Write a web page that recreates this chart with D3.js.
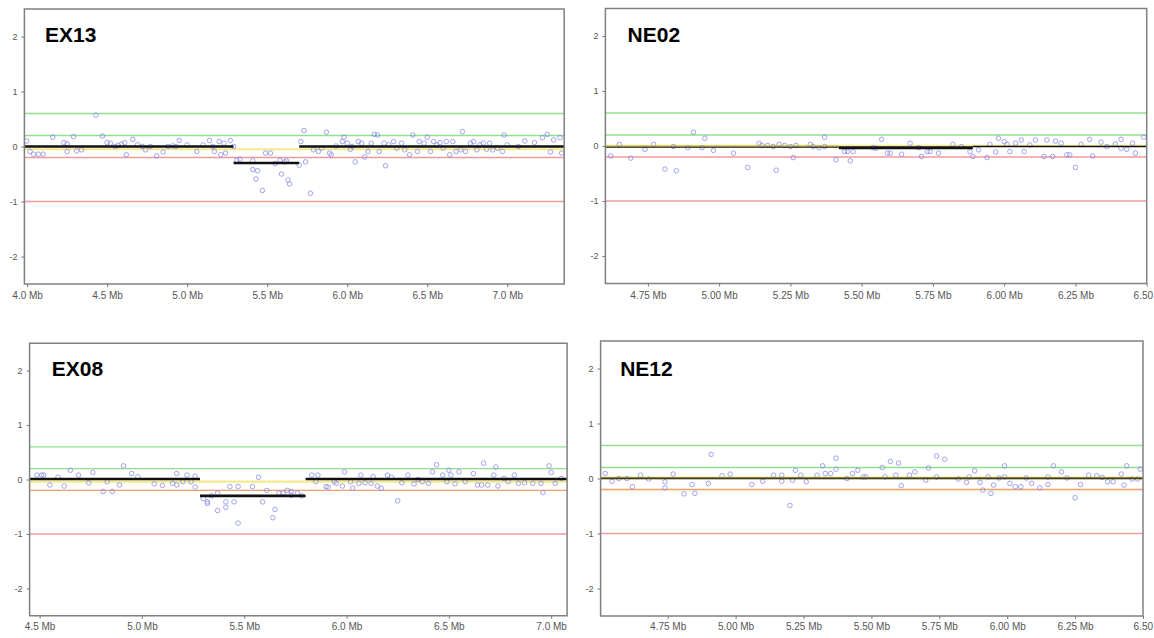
<!DOCTYPE html>
<html><head><meta charset="utf-8">
<script src="https://cdn.jsdelivr.net/npm/d3@7"></script>
<style>body{margin:0;background:#fff}svg{display:block}</style>
</head><body><svg id="c" width="1154" height="638"></svg>
<script>
// ---------------- DATA ----------------
const sampleNames = ["EX13", "NE02", "EX08", "NE12"];

// EX13 probes: position (Mb) and log2 ratio
const ex13Pos = [3.997,4.018,4.04,4.07,4.10,4.16,4.23,4.25,4.25,4.29,4.31,4.34,4.43,4.47,4.50,4.52,4.55,4.57,4.59,4.61,4.62,4.66,4.69,4.72,4.74,4.77,4.81,4.85,4.88,4.91,4.93,4.95,5.00,5.06,5.10,5.14,5.16,5.17,5.20,5.21,5.23,5.24,5.27,5.29,5.31,5.33,5.41,5.41,5.43,5.44,5.47,5.49,5.52,5.55,5.58,5.59,5.61,5.62,5.63,5.64,5.70,5.71,5.73,5.74,5.77,5.79,5.82,5.84,5.87,5.89,5.90,5.93,5.97,5.98,6.00,6.02,6.03,6.05,6.07,6.09,6.11,6.13,6.15,6.17,6.19,6.20,6.23,6.24,6.26,6.29,6.31,6.34,6.36,6.39,6.41,6.44,6.45,6.48,6.50,6.52,6.54,6.56,6.58,6.60,6.62,6.64,6.66,6.68,6.71,6.72,6.74,6.77,6.79,6.81,6.83,6.85,6.87,6.89,6.91,6.94,6.97,6.98,7.00,7.07,7.11,7.17,7.22,7.25,7.27,7.29,7.33,7.34];
const ex13Val = [0.10,-0.09,-0.14,-0.14,-0.14,0.17,0.07,0.05,-0.09,0.18,-0.08,-0.06,0.57,0.19,0.07,0.06,0.00,0.02,0.04,0.07,-0.15,0.13,0.03,0.00,-0.06,0.00,-0.17,-0.10,0.00,0.01,0.00,0.11,0.03,-0.09,0.03,0.11,0.00,-0.09,0.09,-0.15,0.06,-0.12,0.11,0.00,-0.25,-0.23,-0.26,-0.42,-0.59,-0.44,-0.80,-0.12,-0.12,-0.31,-0.25,-0.50,-0.28,-0.26,-0.61,-0.68,-0.34,0.09,0.29,-0.28,-0.85,-0.06,-0.09,-0.03,0.26,-0.12,-0.15,0.01,0.09,0.17,0.06,-0.05,0.00,-0.28,0.09,0.06,-0.19,-0.09,0.06,0.22,0.21,-0.09,0.06,-0.35,0.03,0.09,-0.03,0.06,-0.06,-0.15,0.21,-0.09,0.09,0.06,0.17,-0.09,0.09,0.03,0.07,-0.03,0.09,-0.15,0.09,-0.09,-0.06,0.27,-0.09,0.06,0.09,-0.06,0.03,0.06,-0.05,0.06,-0.06,-0.03,-0.09,0.21,0.03,0.00,0.10,0.07,0.16,0.22,-0.10,0.12,0.16,-0.12];

// NE02 probes
const ne02Pos = [4.62,4.65,4.69,4.74,4.77,4.81,4.84,4.85,4.89,4.91,4.94,4.95,4.98,5.05,5.10,5.14,5.15,5.17,5.19,5.20,5.21,5.23,5.25,5.26,5.27,5.32,5.33,5.35,5.37,5.37,5.41,5.44,5.45,5.46,5.47,5.54,5.55,5.57,5.59,5.60,5.64,5.67,5.70,5.71,5.73,5.74,5.77,5.82,5.85,5.88,5.89,5.91,5.94,5.95,5.97,5.98,6.00,6.01,6.02,6.04,6.06,6.07,6.09,6.11,6.14,6.15,6.17,6.18,6.20,6.22,6.23,6.25,6.27,6.30,6.31,6.34,6.36,6.39,6.41,6.41,6.43,6.45,6.46,6.49];
const ne02Val = [-0.18,0.03,-0.22,-0.06,0.03,-0.42,-0.01,-0.45,-0.03,0.25,-0.03,0.14,-0.08,-0.13,-0.39,0.05,0.01,0.01,-0.01,-0.44,0.03,0.01,-0.01,-0.21,0.01,0.03,-0.01,-0.03,0.16,-0.01,-0.25,-0.10,-0.10,-0.27,-0.10,-0.03,-0.04,0.12,-0.13,-0.13,-0.15,0.05,-0.03,-0.19,-0.10,-0.10,-0.13,0.03,-0.01,-0.10,-0.19,-0.07,-0.21,0.03,-0.11,0.14,0.08,0.03,-0.10,0.05,0.11,-0.10,0.02,0.11,-0.19,0.11,-0.19,0.09,0.05,-0.16,-0.16,-0.39,0.03,0.12,-0.18,0.07,-0.01,0.04,0.12,-0.04,-0.06,0.05,-0.13,0.16];

// EX08 probes
const ex08Pos = [4.486,4.51,4.52,4.55,4.59,4.62,4.65,4.69,4.74,4.76,4.81,4.83,4.855,4.89,4.91,4.95,4.98,5.06,5.10,5.15,5.17,5.17,5.20,5.22,5.24,5.26,5.26,5.30,5.32,5.32,5.34,5.37,5.37,5.41,5.41,5.43,5.45,5.47,5.47,5.54,5.57,5.59,5.61,5.64,5.65,5.67,5.69,5.71,5.73,5.73,5.76,5.78,5.83,5.85,5.86,5.90,5.91,5.94,5.95,5.98,5.99,6.02,6.03,6.06,6.07,6.09,6.12,6.13,6.15,6.17,6.20,6.22,6.25,6.27,6.30,6.33,6.35,6.37,6.40,6.42,6.44,6.47,6.49,6.50,6.51,6.53,6.55,6.58,6.62,6.64,6.66,6.67,6.69,6.72,6.73,6.74,6.77,6.79,6.82,6.84,6.87,6.91,6.95,6.96,6.99,7.00,7.02,7.05];
const ex08Val = [0.08,0.08,0.08,-0.10,0.04,-0.12,0.17,0.08,-0.06,0.13,-0.22,-0.04,-0.22,-0.10,0.25,0.11,0.05,-0.08,-0.11,-0.07,-0.10,0.11,-0.04,0.08,-0.04,0.06,-0.14,-0.35,-0.41,-0.44,-0.30,-0.25,-0.57,-0.41,-0.51,-0.13,-0.41,-0.13,-0.80,-0.13,0.04,-0.41,-0.20,-0.70,-0.55,-0.25,-0.25,-0.20,-0.22,-0.29,-0.25,-0.30,0.08,-0.04,0.08,-0.13,-0.14,-0.04,-0.07,-0.12,0.14,-0.04,-0.16,-0.07,0.08,-0.06,-0.07,0.05,-0.12,-0.16,0.08,0.04,-0.39,-0.06,0.08,-0.08,0.00,-0.04,-0.07,0.14,0.27,0.08,-0.04,0.17,0.08,-0.08,0.14,-0.04,0.11,-0.10,-0.10,0.30,-0.10,0.08,0.23,-0.12,0.02,-0.04,0.08,-0.07,-0.06,-0.07,-0.07,-0.24,0.25,0.13,-0.07,0.02];

// NE12 probes
const ne12Pos = [4.52,4.545,4.57,4.60,4.62,4.65,4.68,4.74,4.74,4.77,4.81,4.84,4.85,4.90,4.91,4.95,4.98,5.06,5.10,5.14,5.17,5.17,5.20,5.21,5.22,5.24,5.26,5.30,5.32,5.33,5.35,5.37,5.37,5.41,5.43,5.45,5.47,5.48,5.54,5.55,5.57,5.59,5.60,5.61,5.64,5.66,5.70,5.71,5.74,5.74,5.77,5.82,5.85,5.86,5.88,5.90,5.91,5.93,5.94,5.95,5.97,5.99,5.99,6.01,6.03,6.05,6.07,6.09,6.12,6.15,6.15,6.17,6.20,6.22,6.25,6.27,6.30,6.33,6.35,6.37,6.39,6.42,6.43,6.44,6.46,6.48,6.49];
const ne12Val = [0.09,-0.05,0.00,0.00,-0.15,0.06,-0.01,-0.06,-0.17,0.08,-0.28,-0.11,-0.27,-0.09,0.44,0.05,0.08,-0.11,-0.05,0.06,0.06,-0.05,-0.49,-0.03,0.15,0.06,-0.06,0.06,0.23,0.09,0.09,0.37,0.17,0.00,0.09,0.15,0.03,0.03,0.20,0.03,0.31,0.06,0.28,-0.13,0.06,0.12,-0.03,0.19,0.41,0.03,0.35,-0.01,-0.07,0.03,0.14,-0.07,-0.21,0.03,-0.27,-0.12,0.01,0.23,0.03,-0.09,-0.15,-0.15,0.01,-0.09,-0.17,-0.11,0.03,0.23,0.12,0.01,-0.35,-0.11,0.06,0.05,0.02,-0.06,-0.06,0.08,-0.12,0.23,-0.01,-0.01,0.17];

// Segments: start (Mb), end (Mb), mean value
const ex13SegStart = [3.983, 5.29, 5.70];
const ex13SegEnd   = [5.29, 5.70, 7.356];
const ex13SegVal   = [0.0, -0.30, 0.0];
const ne02SegStart = [4.601, 5.42, 5.89];
const ne02SegEnd   = [5.42, 5.89, 6.50];
const ne02SegVal   = [-0.02, -0.03, -0.01];
const ex08SegStart = [4.451, 5.284, 5.80];
const ex08SegEnd   = [5.284, 5.80, 7.078];
const ex08SegVal   = [0.01, -0.30, 0.01];
const ne12SegStart = [4.503];
const ne12SegEnd   = [6.50];
const ne12SegVal   = [0.005];

// Reference levels
const gainLevels = [0.6, 0.2];
const lossLevels = [-0.2, -1];
const yellowLevels = [-0.05, 0.005, -0.04, 0.015];

// Tick values and labels
const yTicks = [-2, -1, 0, 1, 2];
const yTickLabels = ["-2", "-1", "0", "1", "2"];
const ex13Ticks = [4.0, 4.5, 5.0, 5.5, 6.0, 6.5, 7.0];
const ex13TickLabels = ["4.0 Mb", "4.5 Mb", "5.0 Mb", "5.5 Mb", "6.0 Mb", "6.5 Mb", "7.0 Mb"];
const ex08Ticks = [4.5, 5.0, 5.5, 6.0, 6.5, 7.0];
const ex08TickLabels = ["4.5 Mb", "5.0 Mb", "5.5 Mb", "6.0 Mb", "6.5 Mb", "7.0 Mb"];
const neTicks = [4.75, 5.00, 5.25, 5.50, 5.75, 6.00, 6.25, 6.50];
const neTickLabels = ["4.75 Mb", "5.00 Mb", "5.25 Mb", "5.50 Mb", "5.75 Mb", "6.00 Mb", "6.25 Mb", "6.50"];

// ---------------- LAYOUT ----------------
const panels = [
  {name: sampleNames[0], pos: ex13Pos, val: ex13Val, s0: ex13SegStart, s1: ex13SegEnd, sv: ex13SegVal,
   ticks: ex13Ticks, labels: ex13TickLabels, yellow: yellowLevels[0],
   left: 24.4, right: 564.2, top: 9, bottom: 284, xd: [3.983, 7.356], tx: 45, ty: 42, low: "#f29a9a", segW: [2.6, 2.6, 2.6], pad: 5},
  {name: sampleNames[1], pos: ne02Pos, val: ne02Val, s0: ne02SegStart, s1: ne02SegEnd, sv: ne02SegVal,
   ticks: neTicks, labels: neTickLabels, yellow: yellowLevels[1],
   left: 605.4, right: 1146.7, top: 8.5, bottom: 283.5, xd: [4.601, 6.50], tx: 627.6, ty: 42, low: "#f29a9a", segW: [1.4, 3.0, 1.6], pad: 5},
  {name: sampleNames[2], pos: ex08Pos, val: ex08Val, s0: ex08SegStart, s1: ex08SegEnd, sv: ex08SegVal,
   ticks: ex08Ticks, labels: ex08TickLabels, yellow: yellowLevels[2],
   left: 29.6, right: 567.1, top: 343.25, bottom: 615.75, xd: [4.451, 7.078], tx: 51.8, ty: 376, low: "#f0a070", segW: [2.6, 2.6, 2.6], pad: 4},
  {name: sampleNames[3], pos: ne12Pos, val: ne12Val, s0: ne12SegStart, s1: ne12SegEnd, sv: ne12SegVal,
   ticks: neTicks, labels: neTickLabels, yellow: yellowLevels[3],
   left: 600.6, right: 1143, top: 341, bottom: 616, xd: [4.503, 6.50], tx: 620.2, ty: 376, low: "#f0a060", segW: [1.8], pad: 4}
];

const W = 1154;
const svg = d3.select("#c");
svg.append("rect").attr("width", W).attr("height", 638).attr("fill", "#fff");

panels.forEach((p, i) => {
  const x = d3.scaleLinear().domain(p.xd).range([p.left, p.right]);
  const y = d3.scaleLinear().domain([-2.5, 2.5]).range([p.bottom, p.top]);
  const g = svg.append("g");
  const clipId = "clip" + i;
  svg.append("clipPath").attr("id", clipId).append("rect")
    .attr("x", p.left).attr("y", p.top).attr("width", p.right - p.left).attr("height", p.bottom - p.top);
  const inner = g.append("g").attr("clip-path", `url(#${clipId})`);

  // gain / loss lines
  inner.selectAll("line.gain").data(gainLevels).enter().append("line")
    .attr("x1", p.left).attr("x2", p.right).attr("y1", d => y(d)).attr("y2", d => y(d))
    .attr("stroke", "#8fe08f").attr("stroke-width", 1.3);
  inner.selectAll("line.loss").data(lossLevels).enter().append("line")
    .attr("x1", p.left).attr("x2", p.right).attr("y1", d => y(d)).attr("y2", d => y(d))
    .attr("stroke", (d, k) => k === 0 ? p.low : "#f29a9a").attr("stroke-width", 1.3);
  // yellow baseline
  inner.append("line").attr("x1", p.left).attr("x2", p.right)
    .attr("y1", y(p.yellow)).attr("y2", y(p.yellow))
    .attr("stroke", "#f3ea8a").attr("stroke-width", 2.2);

  // points
  const pts = p.pos.map((d, k) => [d, p.val[k]]);
  inner.selectAll("circle").data(pts).enter().append("circle")
    .attr("cx", d => x(d[0])).attr("cy", d => y(d[1])).attr("r", 2.3)
    .attr("fill", "none").attr("stroke", "#8585e8").attr("stroke-opacity", 0.75).attr("stroke-width", 1);

  // segments
  const segs = p.s0.map((d, k) => [d, p.s1[k], p.sv[k], p.segW[k]]);
  inner.selectAll("line.seg").data(segs).enter().append("line")
    .attr("x1", d => x(d[0])).attr("x2", d => x(d[1]))
    .attr("y1", d => y(d[2])).attr("y2", d => y(d[2]))
    .attr("stroke", "#111").attr("stroke-width", d => d[3]);
  if (i === 1 || i === 3) {
    inner.append("line").attr("x1", p.left).attr("x2", i === 1 ? x(5.42) : p.right)
      .attr("y1", y(p.yellow)).attr("y2", y(p.yellow))
      .attr("stroke", "#c8b830").attr("stroke-opacity", 0.55).attr("stroke-width", 1.4);
  }

  // x axis
  const xa = d3.axisBottom(x).tickValues(p.ticks).tickFormat((d, k) => p.labels[k]).tickSize(3).tickPadding(p.pad);
  const gx = g.append("g").attr("transform", `translate(0,${p.bottom})`).call(xa);
  gx.select(".domain").remove();
  gx.selectAll("line").attr("stroke", "#777");
  gx.selectAll("text").attr("fill", "#555").attr("font-size", "10px").attr("font-family", "Liberation Sans, Arial, sans-serif");
  // keep labels inside the picture
  gx.selectAll("text").each(function(d) {
    const b = this.getBBox();
    const r = x(d) + b.x + b.width;
    if (r > W - 1) d3.select(this).attr("dx", (W - 1 - r) + "px");
  });

  // y axis
  const ya = d3.axisLeft(y).tickValues(yTicks).tickFormat((d, k) => yTickLabels[k]).tickSize(3).tickPadding(4);
  const gy = g.append("g").attr("transform", `translate(${p.left},0)`).call(ya);
  gy.select(".domain").remove();
  gy.selectAll("line").attr("stroke", "#777");
  gy.selectAll("text").attr("fill", "#555").attr("font-size", "9px").attr("font-family", "Liberation Sans, Arial, sans-serif");

  // frame
  g.append("rect").attr("x", p.left).attr("y", p.top).attr("width", p.right - p.left).attr("height", p.bottom - p.top)
    .attr("fill", "none").attr("stroke", "#808080").attr("stroke-width", 1.5);

  // title
  g.append("text").attr("x", p.tx).attr("y", p.ty).text(p.name)
    .attr("font-family", "Liberation Sans, Arial, sans-serif").attr("font-weight", "bold")
    .attr("font-size", "21px").attr("fill", "#000");
});
</script></body></html>
